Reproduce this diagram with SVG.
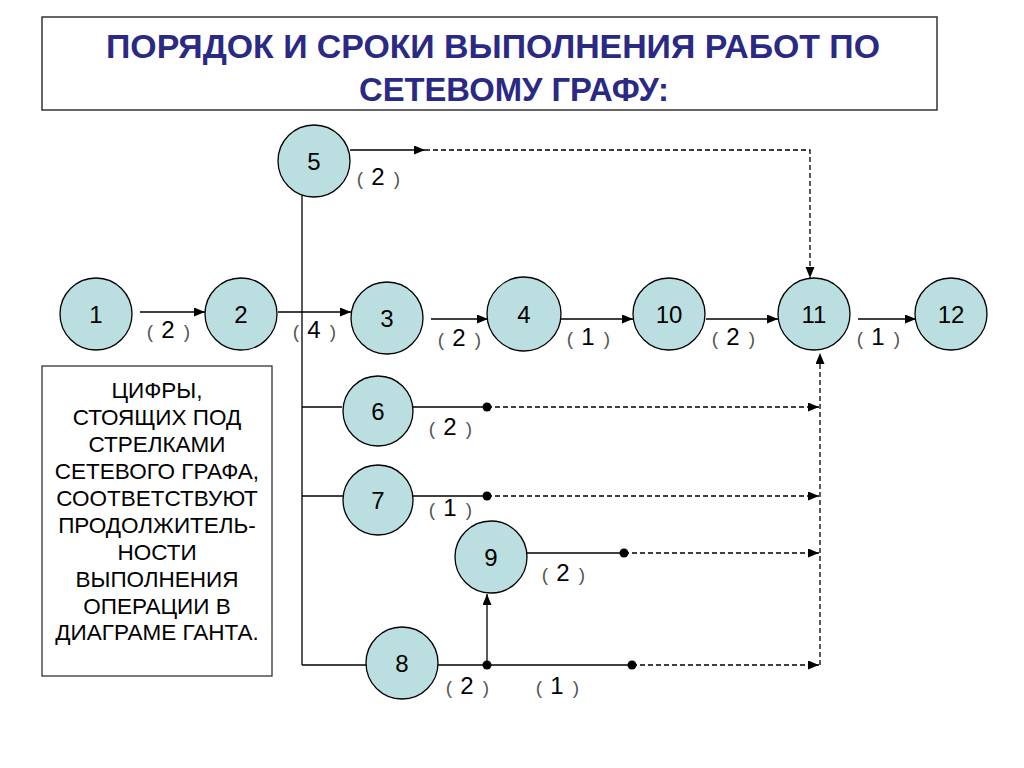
<svg xmlns="http://www.w3.org/2000/svg" width="1024" height="768" viewBox="0 0 1024 768">
<defs>
<style>
.node circle{fill:#bbdfe0;stroke:#000;stroke-width:1.3}
.node text{font-family:"Liberation Sans",Arial,sans-serif;font-size:24px;fill:#000;text-anchor:middle}
.ln{stroke:#000;stroke-width:1.3;fill:none}
.ds{stroke:#000;stroke-width:1.3;fill:none;stroke-dasharray:5 3}
.lbl{font-family:"Liberation Sans",Arial,sans-serif;font-size:24px;fill:#000;text-anchor:middle}
.br{font-size:19px;fill:#555}
.title{font-family:"Liberation Sans",Arial,sans-serif;font-weight:bold;font-size:34px;fill:#2a2a85;text-anchor:middle}
.note{font-family:"Liberation Sans",Arial,sans-serif;font-size:22.5px;fill:#000;text-anchor:middle}
</style>
<marker id="ah" markerUnits="userSpaceOnUse" markerWidth="12" markerHeight="10" refX="11" refY="4.5" orient="auto">
<path d="M0,0 L11,4.5 L0,9 z" fill="#000"/>
</marker>
</defs>
<rect width="1024" height="768" fill="#fff"/>
<g id="title">
<rect x="42" y="17" width="895" height="93" fill="#fff" stroke="#333" stroke-width="1.5"/>
<text class="title" x="493" y="58" textLength="774" lengthAdjust="spacingAndGlyphs">ПОРЯДОК И СРОКИ ВЫПОЛНЕНИЯ РАБОТ ПО</text>
<text class="title" x="514" y="101" textLength="310" lengthAdjust="spacingAndGlyphs">СЕТЕВОМУ ГРАФУ:</text>
</g>
<g id="note">
<rect x="42" y="366" width="230" height="310" fill="#fff" stroke="#333" stroke-width="1.3"/>
<text class="note" x="157" y="398">ЦИФРЫ,</text>
<text class="note" x="157" y="425">СТОЯЩИХ ПОД</text>
<text class="note" x="157" y="452">СТРЕЛКАМИ</text>
<text class="note" x="157" y="479">СЕТЕВОГО ГРАФА,</text>
<text class="note" x="157" y="506">СООТВЕТСТВУЮТ</text>
<text class="note" x="157" y="533">ПРОДОЛЖИТЕЛЬ-</text>
<text class="note" x="157" y="560">НОСТИ</text>
<text class="note" x="157" y="587">ВЫПОЛНЕНИЯ</text>
<text class="note" x="157" y="614">ОПЕРАЦИИ В</text>
<text class="note" x="157" y="640">ДИАГРАМЕ ГАНТА.</text>
</g>
<g id="connectors">
<line class="ln" x1="140" y1="312" x2="205" y2="312" marker-end="url(#ah)"/>
<line class="ln" x1="278" y1="312" x2="351" y2="312" marker-end="url(#ah)"/>
<line class="ln" x1="431" y1="319" x2="488" y2="319" marker-end="url(#ah)"/>
<line class="ln" x1="561" y1="319" x2="633" y2="319" marker-end="url(#ah)"/>
<line class="ln" x1="706" y1="319" x2="778" y2="319" marker-end="url(#ah)"/>
<line class="ln" x1="858" y1="319" x2="916" y2="319" marker-end="url(#ah)"/>
<line class="ln" x1="350" y1="150" x2="425" y2="150" marker-end="url(#ah)"/>
<polyline class="ds" points="425,150 810,150 810,278" marker-end="url(#ah)"/>
<line class="ln" x1="302" y1="195" x2="302" y2="665"/>
<line class="ln" x1="302" y1="407" x2="342" y2="407"/>
<line class="ln" x1="302" y1="496" x2="344" y2="496"/>
<line class="ln" x1="302" y1="665" x2="367" y2="665"/>
<line class="ln" x1="413" y1="407" x2="487" y2="407"/>
<line class="ds" x1="487" y1="407" x2="819" y2="407" marker-end="url(#ah)"/>
<line class="ln" x1="413" y1="496" x2="487" y2="496"/>
<line class="ds" x1="487" y1="496" x2="819" y2="496" marker-end="url(#ah)"/>
<line class="ln" x1="527" y1="553" x2="624" y2="553"/>
<line class="ds" x1="624" y1="553" x2="819" y2="553" marker-end="url(#ah)"/>
<line class="ln" x1="438" y1="665" x2="632" y2="665"/>
<line class="ds" x1="632" y1="665" x2="819" y2="665" marker-end="url(#ah)"/>
<line class="ln" x1="487" y1="665" x2="487" y2="594" marker-end="url(#ah)"/>
<line class="ds" x1="820" y1="665" x2="820" y2="353" marker-end="url(#ah)"/>
<circle cx="487" cy="407" r="4.5" fill="#000"/>
<circle cx="487" cy="496" r="4.5" fill="#000"/>
<circle cx="624" cy="553" r="4.5" fill="#000"/>
<circle cx="487" cy="665" r="4.5" fill="#000"/>
<circle cx="632" cy="665" r="4.5" fill="#000"/>
<text class="lbl" y="338"><tspan class="br" x="150">(</tspan><tspan x="168">2</tspan><tspan class="br" x="187">)</tspan></text>
<text class="lbl" y="338"><tspan class="br" x="296">(</tspan><tspan x="314">4</tspan><tspan class="br" x="333">)</tspan></text>
<text class="lbl" y="346"><tspan class="br" x="441">(</tspan><tspan x="459">2</tspan><tspan class="br" x="478">)</tspan></text>
<text class="lbl" y="345"><tspan class="br" x="570">(</tspan><tspan x="588">1</tspan><tspan class="br" x="607">)</tspan></text>
<text class="lbl" y="345"><tspan class="br" x="715">(</tspan><tspan x="733">2</tspan><tspan class="br" x="752">)</tspan></text>
<text class="lbl" y="345"><tspan class="br" x="860">(</tspan><tspan x="878">1</tspan><tspan class="br" x="897">)</tspan></text>
<text class="lbl" y="185"><tspan class="br" x="360">(</tspan><tspan x="378">2</tspan><tspan class="br" x="397">)</tspan></text>
<text class="lbl" y="435"><tspan class="br" x="432">(</tspan><tspan x="450">2</tspan><tspan class="br" x="469">)</tspan></text>
<text class="lbl" y="516"><tspan class="br" x="432">(</tspan><tspan x="450">1</tspan><tspan class="br" x="469">)</tspan></text>
<text class="lbl" y="581"><tspan class="br" x="545">(</tspan><tspan x="563">2</tspan><tspan class="br" x="582">)</tspan></text>
<text class="lbl" y="694"><tspan class="br" x="449">(</tspan><tspan x="467">2</tspan><tspan class="br" x="486">)</tspan></text>
<text class="lbl" y="694"><tspan class="br" x="539">(</tspan><tspan x="557">1</tspan><tspan class="br" x="576">)</tspan></text>
</g>
<g id="n1" class="node"><circle cx="96" cy="314" r="36"/><text x="96" y="323">1</text></g>
<g id="n2" class="node"><circle cx="241" cy="314" r="36"/><text x="241" y="323">2</text></g>
<g id="n3" class="node"><circle cx="387" cy="318" r="36"/><text x="387" y="327">3</text></g>
<g id="n4" class="node"><circle cx="524" cy="314" r="37"/><text x="524" y="323">4</text></g>
<g id="n10" class="node"><circle cx="669" cy="314" r="36"/><text x="669" y="323">10</text></g>
<g id="n11" class="node"><circle cx="814" cy="314" r="36"/><text x="814" y="323">11</text></g>
<g id="n12" class="node"><circle cx="951" cy="314" r="36"/><text x="951" y="323">12</text></g>
<g id="n5" class="node"><circle cx="314" cy="161" r="36"/><text x="314" y="170">5</text></g>
<g id="n6" class="node"><circle cx="378" cy="411" r="35"/><text x="378" y="420">6</text></g>
<g id="n7" class="node"><circle cx="378" cy="500" r="35"/><text x="378" y="509">7</text></g>
<g id="n9" class="node"><circle cx="491" cy="557" r="36"/><text x="491" y="566">9</text></g>
<g id="n8" class="node"><circle cx="402" cy="663" r="36"/><text x="402" y="672">8</text></g>
</svg>
